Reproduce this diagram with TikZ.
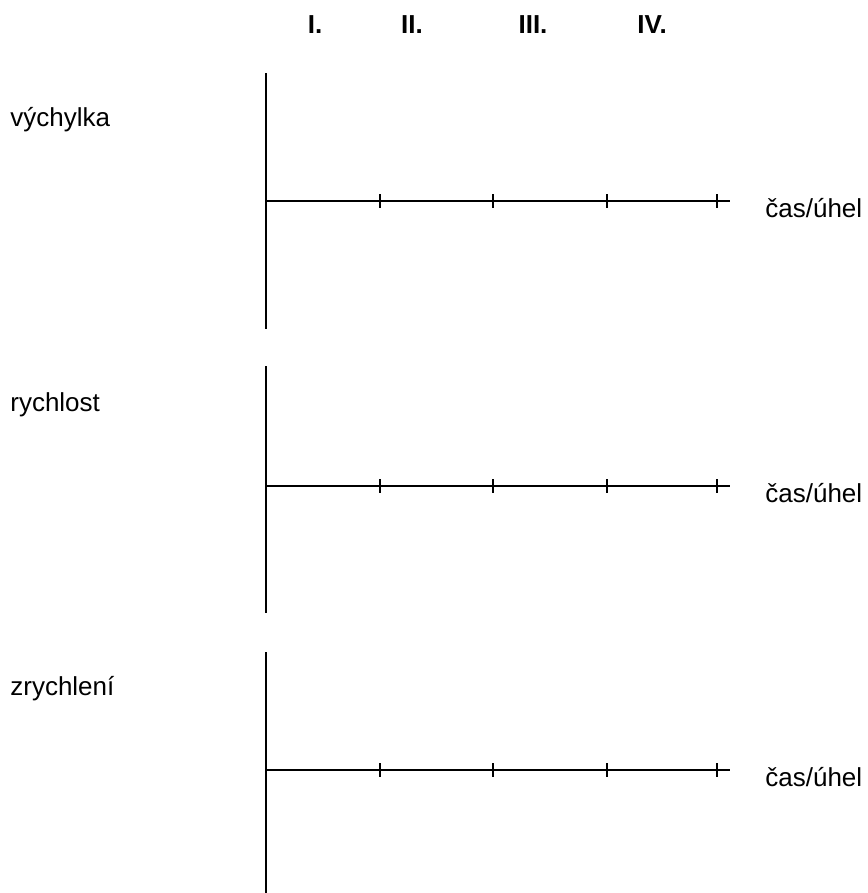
\documentclass[tikz,border=0pt]{standalone}
\usepackage{fontspec}
\setmainfont{Liberation Sans}
\usepackage{tikz}
\usetikzlibrary{positioning,calc}

\tikzset{
  axis/.style={line width=1.4pt,color=black},
  lbl/.style={anchor=base west,inner sep=0pt,font=\fontsize{14.8}{17}\selectfont},
  head/.style={anchor=base,inner sep=0pt,font=\fontsize{14.8}{17}\selectfont\bfseries},
}

\begin{document}
\begin{tikzpicture}[x=0.02cm,y=-0.02cm]

%Define positions of the axes (pixel grid)
\def\yx{266}            %x of the vertical axes.
\def\xend{730}          %right end of the time axis.
\def\tick{7}            %half length of a tick.

\useasboundingbox (0,0) rectangle (868,893);

% Quarter headings
    \node[head] (q1) at (315,33) {I.};
    \node[head] (q2) at (412,33) {II.};
    \node[head] (q3) at (533,33) {III.};
    \node[head] (q4) at (652,33) {IV.};

% Three empty graphs
\foreach \name/\ax/\top/\bot/\txt in {vych/201/73/329/výchylka,
                                      rych/486/366/613/rychlost,
                                      zrych/770/652/893/zrychlení}{
    \coordinate (\name top) at (\yx,\top);
    \coordinate (\name bot) at (\yx,\bot);
    \coordinate (\name o)   at (\yx,\ax);
    \coordinate (\name end) at (\xend,\ax);
    \draw[axis] (\name top) -- (\name bot);
    \draw[axis] (\name o) -- (\name end);
    \foreach \tx in {380,493,607,717}
        \draw[axis] (\tx,{\ax-\tick}) -- (\tx,{\ax+\tick});
    \node[lbl] (\name lbl) at (10,{\ax-75}) {\txt};
    \node[lbl] (\name t) at (765,{\ax+16}) {čas/úhel};
}

\end{tikzpicture}
\end{document}
